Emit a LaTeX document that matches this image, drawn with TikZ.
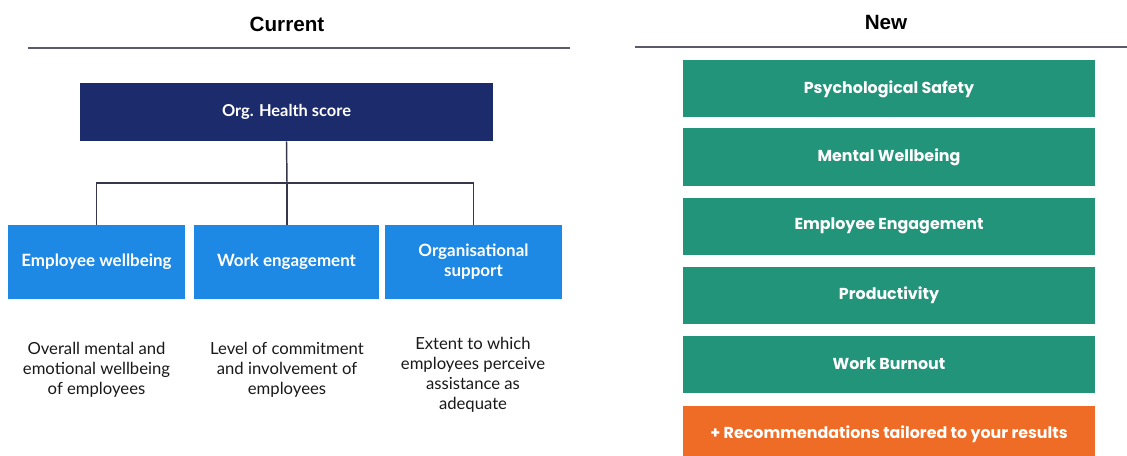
\documentclass[tikz,border=0pt]{standalone}
\usepackage{fontspec}
\setmainfont{Lato}
\newfontfamily\headfont{Liberation Sans}
\newfontfamily\metricfont{Poppins}

\definecolor{navy}{RGB}{28,43,108}
\definecolor{skyblue}{RGB}{30,136,229}
\definecolor{teal}{RGB}{34,148,122}
\definecolor{tangerine}{RGB}{238,108,38}
\definecolor{rulegray}{RGB}{90,90,105}
\definecolor{linkgray}{RGB}{55,55,75}

\begin{document}
\begin{tikzpicture}[x=0.75pt,y=0.75pt,yscale=-1,xscale=1,
  header/.style={font=\headfont\fontsize{15.5}{18}\selectfont\bfseries, text=black},
  scorebox/.style={fill=navy, text=white, minimum width=309.75pt, minimum height=43.5pt, inner sep=0pt, font=\fontsize{12.3}{14}\selectfont\bfseries},
  pillar/.style={fill=skyblue, text=white, minimum width=132.75pt, minimum height=55.5pt, inner sep=0pt, align=center, font=\fontsize{12.7}{15}\selectfont\bfseries},
  blurb/.style={align=center, text=black!90, inner sep=0pt, font=\fontsize{12.5}{15}\selectfont},
  metric/.style={fill=teal, text=white, minimum width=309pt, minimum height=42.75pt, inner sep=0pt, font=\metricfont\fontsize{11.9}{13}\selectfont\bfseries},
  extra/.style={metric, fill=tangerine}
]
%set diagram size 1127 x 456
\fill[white] (0,0) rectangle (1127,456);
\clip (0,0) rectangle (1127,456);

% Column headings
\node[header] (cur) at (287,24) {Current};
\node[header] (new) at (886,22) {New};
\draw[rulegray, line width=1.1pt] (28,48) -- (570,48);
\draw[rulegray, line width=1.1pt] (635,47) -- (1127,47);

% Current model
\node[scorebox] (org) at (286.5,112) {Org. Health score};
\node[pillar] (ew) at (96.5,262) {Employee wellbeing};
\node[pillar, minimum width=138.75pt] (we) at (286.5,262) {Work engagement};
\node[pillar] (os) at (473.5,262) {Organisational\\support};

\coordinate (hub) at (287,183);
\draw[linkgray, line width=1.1pt] (org.south) -- (hub);
\draw[linkgray, line width=1.1pt] (hub) -| (ew.north);
\draw[linkgray, line width=1.1pt] (hub) -- (hub |- we.north);
\draw[linkgray, line width=1.1pt] (hub) -| (os.north);

\node[blurb] (ewtxt) at (96.5,370) {Overall mental and\\emotional wellbeing\\of employees};
\node[blurb] (wetxt) at (287,370) {Level of commitment\\and involvement of\\employees};
\node[blurb] (ostxt) at (473,375) {Extent to which\\employees perceive\\assistance as\\adequate};

% New model
\node[metric] (ps) at (889,89) {Psychological Safety};
\node[metric] (mw) at (889,157) {Mental Wellbeing};
\node[metric] (ee) at (889,226) {Employee Engagement};
\node[metric] (pr) at (889,295) {Productivity};
\node[metric] (wb) at (889,364) {Work Burnout};
\node[extra] (rec) at (889,434) {+ Recommendations tailored to your results};

\end{tikzpicture}
\end{document}
